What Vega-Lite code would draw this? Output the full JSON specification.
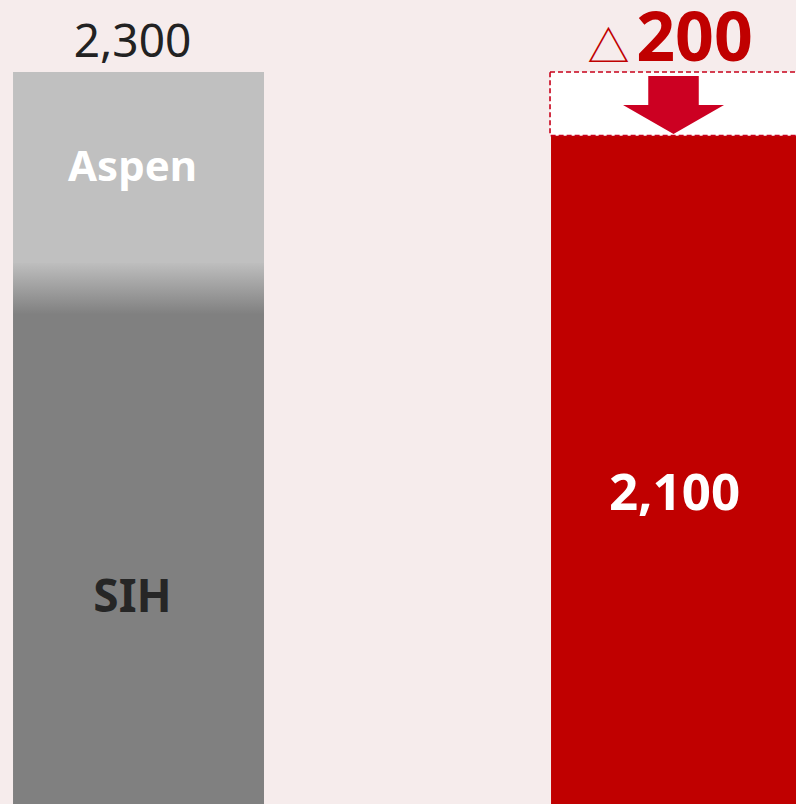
{
  "$schema": "https://vega.github.io/schema/vega-lite/v6.json",
  "width": 802,
  "height": 804,
  "autosize": {"type": "none"},
  "padding": 0,
  "background": "#F6ECEC",
  "config": {"view": {"stroke": null}},
  "datasets": {
    "bars": [
      {"cat": "A", "seg": "SIH", "start": 0, "end": 1700},
      {"cat": "A", "seg": "Aspen", "start": 1700, "end": 2300},
      {"cat": "B", "seg": "Total", "start": 0, "end": 2100},
      {"cat": "B", "seg": "Decrease", "start": 2100, "end": 2300}
    ],
    "labels": [
      {"cat": "A", "key": "total", "text": "2,300", "pos": 2300},
      {"cat": "A", "key": "aspen", "text": "Aspen", "pos": 2000},
      {"cat": "A", "key": "sih", "text": "SIH", "pos": 600},
      {"cat": "B", "key": "new", "text": "2,100", "pos": 925},
      {"cat": "B", "key": "delta", "text": "200", "pos": 2300},
      {"cat": "B", "key": "tri", "text": "△", "pos": 2300},
      {"cat": "B", "key": "arrow", "text": "", "pos": 2200}
    ]
  },
  "encoding": {
    "x": {
      "field": "cat",
      "type": "nominal",
      "axis": null,
      "scale": {"type": "band", "domain": ["A", "B"], "paddingInner": 0.5335, "paddingOuter": 0.0121, "align": 1, "round": false}
    }
  },
  "layer": [
    {
      "data": {"name": "bars"},
      "transform": [{"filter": "datum.seg === 'Aspen'"}],
      "mark": {"type": "bar", "fill": "#C0C0C0"},
      "encoding": {
        "y": {"field": "start", "type": "quantitative", "axis": null, "scale": {"domain": [0, 2526], "nice": false}},
        "y2": {"field": "end"}
      }
    },
    {
      "data": {"name": "bars"},
      "transform": [{"filter": "datum.seg === 'SIH'"}],
      "mark": {
        "type": "bar",
        "fill": {
          "gradient": "linear", "x1": 0, "y1": 0, "x2": 0, "y2": 1,
          "stops": [
            {"offset": 0, "color": "#BEBEBE"},
            {"offset": 0.095, "color": "#808080"},
            {"offset": 1, "color": "#808080"}
          ]
        }
      },
      "encoding": {
        "y": {"field": "start", "type": "quantitative", "axis": null, "scale": {"domain": [0, 2526], "nice": false}},
        "y2": {"field": "end"}
      }
    },
    {
      "data": {"name": "bars"},
      "transform": [{"filter": "datum.seg === 'Total'"}],
      "mark": {"type": "bar", "fill": "#C00000"},
      "encoding": {
        "y": {"field": "start", "type": "quantitative", "axis": null, "scale": {"domain": [0, 2526], "nice": false}},
        "y2": {"field": "end"}
      }
    },
    {
      "data": {"name": "bars"},
      "transform": [{"filter": "datum.seg === 'Decrease'"}],
      "mark": {"type": "bar", "fill": "#FFFFFF", "stroke": "#C8001A", "strokeWidth": 1.6, "strokeDash": [5, 3], "xOffset": -1, "x2Offset": -1},
      "encoding": {
        "y": {"field": "start", "type": "quantitative", "axis": null, "scale": {"domain": [0, 2526], "nice": false}},
        "y2": {"field": "end"}
      }
    },
    {
      "data": {"name": "labels"},
      "transform": [{"filter": "datum.key === 'arrow'"}],
      "mark": {
        "type": "point",
        "shape": "M-0.5,-0.55L0.5,-0.55L0.5,0.024L1,0.024L0,0.598L-1,0.024L-0.5,0.024Z",
        "size": 10201,
        "filled": true,
        "fill": "#CC0022",
        "opacity": 1,
        "strokeWidth": 0,
        "xOffset": -3
      },
      "encoding": {
        "y": {"field": "pos", "type": "quantitative", "axis": null, "scale": {"domain": [0, 2526], "nice": false}}
      }
    },
    {
      "data": {"name": "labels"},
      "transform": [{"filter": "datum.key === 'total'"}],
      "mark": {"type": "text", "font": "Noto Sans", "fontSize": 46, "color": "#222222", "baseline": "alphabetic", "dy": -15, "dx": -6},
      "encoding": {
        "y": {"field": "pos", "type": "quantitative", "axis": null, "scale": {"domain": [0, 2526], "nice": false}},
        "text": {"field": "text"}
      }
    },
    {
      "data": {"name": "labels"},
      "transform": [{"filter": "datum.key === 'aspen'"}],
      "mark": {"type": "text", "font": "Noto Sans", "fontWeight": "bold", "fontSize": 42, "color": "#FFFFFF", "baseline": "alphabetic", "dy": 14, "dx": -6},
      "encoding": {
        "y": {"field": "pos", "type": "quantitative", "axis": null, "scale": {"domain": [0, 2526], "nice": false}},
        "text": {"field": "text"}
      }
    },
    {
      "data": {"name": "labels"},
      "transform": [{"filter": "datum.key === 'sih'"}],
      "mark": {"type": "text", "font": "Noto Sans", "fontWeight": "bold", "fontSize": 46, "color": "#262626", "baseline": "alphabetic", "dy": -1, "dx": -6},
      "encoding": {
        "y": {"field": "pos", "type": "quantitative", "axis": null, "scale": {"domain": [0, 2526], "nice": false}},
        "text": {"field": "text"}
      }
    },
    {
      "data": {"name": "labels"},
      "transform": [{"filter": "datum.key === 'new'"}],
      "mark": {"type": "text", "font": "Noto Sans", "fontWeight": "bold", "fontSize": 51, "color": "#FFFFFF", "baseline": "alphabetic", "dy": 0, "dx": -2},
      "encoding": {
        "y": {"field": "pos", "type": "quantitative", "axis": null, "scale": {"domain": [0, 2526], "nice": false}},
        "text": {"field": "text"}
      }
    },
    {
      "data": {"name": "labels"},
      "transform": [{"filter": "datum.key === 'delta'"}],
      "mark": {"type": "text", "font": "Noto Sans", "fontWeight": "bold", "fontSize": 68, "color": "#C00000", "baseline": "alphabetic", "dy": -11, "dx": 18},
      "encoding": {
        "y": {"field": "pos", "type": "quantitative", "axis": null, "scale": {"domain": [0, 2526], "nice": false}},
        "text": {"field": "text"}
      }
    },
    {
      "data": {"name": "labels"},
      "transform": [{"filter": "datum.key === 'tri'"}],
      "mark": {"type": "text", "font": "Noto Sans CJK JP", "fontSize": 42, "color": "#C00000", "baseline": "alphabetic", "dy": -10, "dx": -68},
      "encoding": {
        "y": {"field": "pos", "type": "quantitative", "axis": null, "scale": {"domain": [0, 2526], "nice": false}},
        "text": {"field": "text"}
      }
    }
  ]
}
